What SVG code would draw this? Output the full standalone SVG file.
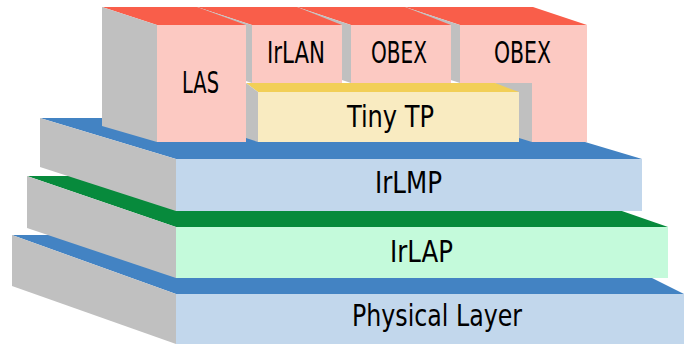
<svg xmlns="http://www.w3.org/2000/svg" width="684" height="344" viewBox="0 0 684 344">
  <style>
    .side { fill: #c0c0c0; }
    .red { fill: #f95e4a; }
    .pink { fill: #fcc9c2; }
    .blue { fill: #4383c3; }
    .lblue { fill: #c2d7ec; }
    .green { fill: #078a3c; }
    .lgreen { fill: #c4fadb; }
    .yellow { fill: #f2cf57; }
    .lyellow { fill: #f9ebc1; }
    text { font-family: "DejaVu Sans Condensed", "DejaVu Sans", sans-serif; font-size: 31px; fill: #000; text-anchor: middle; }
  </style>
  <rect width="684" height="344" fill="#ffffff"/>

  <!-- bottom slab -->
  <g id="physical">
    <polygon class="blue" points="12,235 566,235 684,294 176,294"/>
    <polygon class="side" points="12,235 176,294 176,344 12,286"/>
    <rect class="lblue" x="176" y="294" width="508" height="50"/>
    <text x="437" y="326" textLength="170" lengthAdjust="spacingAndGlyphs">Physical Layer</text>
  </g>

  <!-- link access slab -->
  <g id="irlap">
    <polygon class="green" points="27,176 521,176 668,227 176,227"/>
    <polygon class="side" points="27,176 176,227 176,278 27,228"/>
    <rect class="lgreen" x="176" y="227" width="492" height="51"/>
    <text x="421.5" y="262" textLength="63" lengthAdjust="spacingAndGlyphs">IrLAP</text>
  </g>

  <!-- link management slab -->
  <g id="irlmp">
    <polygon class="blue" points="40,118 505,118 642,159 176,159"/>
    <polygon class="side" points="40,118 176,159 176,211 40,167"/>
    <rect class="lblue" x="176" y="159" width="466" height="52"/>
    <text x="408.5" y="193" textLength="67" lengthAdjust="spacingAndGlyphs">IrLMP</text>
  </g>

  <!-- upper blocks, drawn right to left -->
  <g id="obex2">
    <polygon class="red" points="405,7 533,7 587,25 460,25"/>
    <polygon class="side" points="405,7 460,25 460,83 405,65"/>
    <polygon class="side" points="495,83 532,83 532,142 519,138"/>
    <polygon class="pink" points="460,25 587,25 587,142 532,142 532,83 460,83"/>
    <text x="522.5" y="63" textLength="57" lengthAdjust="spacingAndGlyphs">OBEX</text>
  </g>

  <g id="obex1">
    <polygon class="red" points="297,7 405,7 451,25 351,25"/>
    <polygon class="side" points="297,7 351,25 351,83 297,65"/>
    <rect class="pink" x="351" y="25" width="100" height="58"/>
    <text x="399" y="63" textLength="56" lengthAdjust="spacingAndGlyphs">OBEX</text>
  </g>

  <g id="irlan">
    <polygon class="red" points="197,7 297,7 342,25 252,25"/>
    <polygon class="side" points="197,7 252,25 252,83 197,65"/>
    <rect class="pink" x="252" y="25" width="90" height="58"/>
    <text x="296" y="63" textLength="58" lengthAdjust="spacingAndGlyphs">IrLAN</text>
  </g>

  <g id="tinytp">
    <polygon class="yellow" points="246,83 495,83 519,92 258,92"/>
    <polygon class="side" points="246,83 258,92 258,142 246,138"/>
    <rect class="lyellow" x="258" y="92" width="261" height="50"/>
    <text x="390.5" y="127" textLength="87" lengthAdjust="spacingAndGlyphs">Tiny TP</text>
  </g>

  <g id="las">
    <polygon class="red" points="102,7 197,7 246,25 157,25"/>
    <polygon class="side" points="102,7 157,25 157,142 102,126"/>
    <rect class="pink" x="157" y="25" width="89" height="117"/>
    <text x="200.5" y="93" textLength="37" lengthAdjust="spacingAndGlyphs">LAS</text>
  </g>

  <!-- no connectors in this stack -->
  <g id="connectors"/>
</svg>
